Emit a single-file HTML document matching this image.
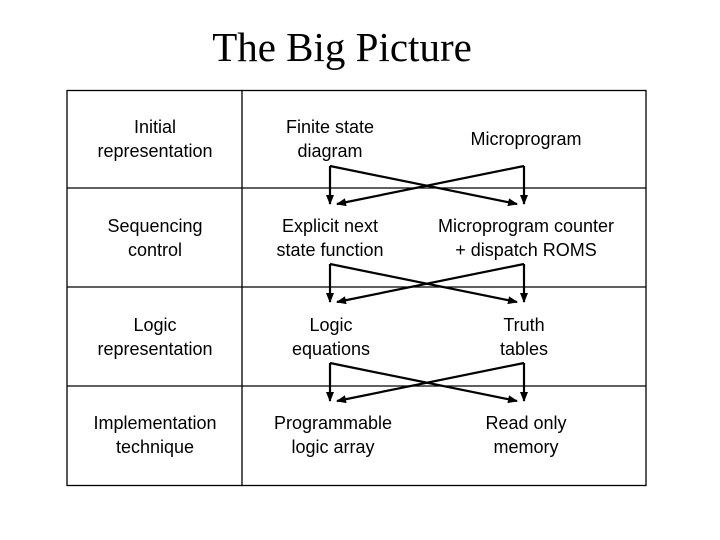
<!DOCTYPE html>
<html><head><meta charset="utf-8"><style>
html,body{margin:0;padding:0;background:#fff;}
svg{display:block}
.t{font-family:"Liberation Sans",sans-serif;font-size:18px;fill:#000;text-anchor:middle}
</style></head><body>
<svg width="720" height="540" viewBox="0 0 720 540" xmlns="http://www.w3.org/2000/svg">
<defs><marker id="a" markerWidth="10" markerHeight="10" refX="9" refY="5" orient="auto" markerUnits="userSpaceOnUse"><path d="M0,1 L10,5 L0,9 Z" fill="#000"/></marker></defs>
<text x="342" y="61" font-family="Liberation Serif,serif" font-size="41" text-anchor="middle">The Big Picture</text>
<g stroke="#000" stroke-width="1.3" fill="none">
<rect x="67" y="90.5" width="579" height="395"/>
<line x1="242" y1="90" x2="242" y2="486"/>
<line x1="67" y1="188" x2="646" y2="188"/>
<line x1="67" y1="287" x2="646" y2="287"/>
<line x1="67" y1="386" x2="646" y2="386"/>
</g>
<g stroke="#000" stroke-width="2.2" fill="none">
<g id="x">
<line x1="330" y1="166" x2="330" y2="204" marker-end="url(#a)"/>
<line x1="524" y1="166" x2="524" y2="204" marker-end="url(#a)"/>
<line x1="330" y1="166" x2="517" y2="204" marker-end="url(#a)"/>
<line x1="524" y1="166" x2="337" y2="204" marker-end="url(#a)"/>
</g>
<use href="#x" y="98"/>
<use href="#x" y="197"/>
</g>
<text class="t" x="155" y="133">Initial</text>
<text class="t" x="155" y="157">representation</text>
<text class="t" x="330" y="133">Finite state</text>
<text class="t" x="330" y="157">diagram</text>
<text class="t" x="526" y="145">Microprogram</text>
<text class="t" x="155" y="232">Sequencing</text>
<text class="t" x="155" y="256">control</text>
<text class="t" x="330" y="232">Explicit next</text>
<text class="t" x="330" y="256">state function</text>
<text class="t" x="526" y="232">Microprogram counter</text>
<text class="t" x="526" y="256">+ dispatch ROMS</text>
<text class="t" x="155" y="331">Logic</text>
<text class="t" x="155" y="355">representation</text>
<text class="t" x="331" y="331">Logic</text>
<text class="t" x="331" y="355">equations</text>
<text class="t" x="524" y="331">Truth</text>
<text class="t" x="524" y="355">tables</text>
<text class="t" x="155" y="429">Implementation</text>
<text class="t" x="155" y="453">technique</text>
<text class="t" x="333" y="429">Programmable</text>
<text class="t" x="333" y="453">logic array</text>
<text class="t" x="526" y="429">Read only</text>
<text class="t" x="526" y="453">memory</text>
</svg>
</body></html>
